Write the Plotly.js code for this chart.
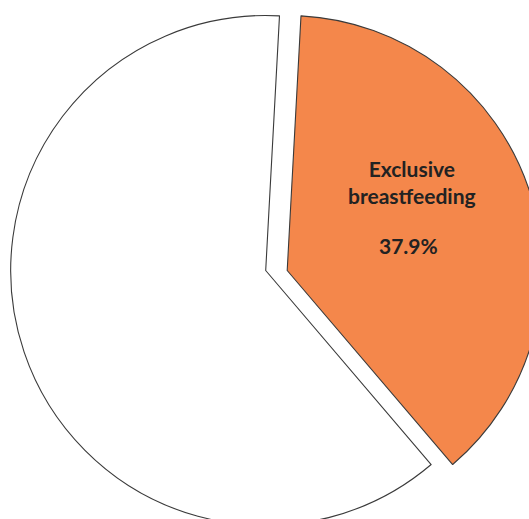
<!DOCTYPE html>
<html>
<head>
<meta charset="utf-8">
<script src="https://cdn.plot.ly/plotly-3.0.1.min.js"></script>
<style>
  html, body { margin: 0; padding: 0; overflow: hidden; background: #fff; }
  #chart { width: 560px; height: 560px; }
</style>
</head>
<body>
<div id="chart"></div>
<script>
// Data
const labels = ['Exclusive breastfeeding', 'Other'];
const values = [37.9, 62.1];
const sliceColors = ['#F4874B', '#FFFFFF'];

// Layout geometry (pixels in a 560x560 canvas)
const W = 560, H = 560;
const R = 255;
const cy = 270.5;
const cxWhite = 265.7;
const cxOrange = 287.2;

function dom(cx) {
  return {
    x: [(cx - R) / W, (cx + R) / W],
    y: [1 - (cy + R) / H, 1 - (cy - R) / H]
  };
}

const lineColor = '#3a3a3a';

// Trace drawing only the white slice
const traceWhite = {
  type: 'pie',
  labels: labels,
  values: values,
  sort: false,
  direction: 'clockwise',
  rotation: 3.1,
  textinfo: 'none',
  hoverinfo: 'skip',
  showlegend: false,
  domain: dom(cxWhite),
  marker: {
    colors: ['rgba(0,0,0,0)', sliceColors[1]],
    line: { color: [ 'rgba(0,0,0,0)', lineColor], width: [0, 1.1] }
  }
};

// Trace drawing only the (exploded) orange slice
const traceOrange = {
  type: 'pie',
  labels: labels,
  values: values,
  sort: false,
  direction: 'clockwise',
  rotation: 3.1,
  textinfo: 'none',
  hoverinfo: 'skip',
  showlegend: false,
  domain: dom(cxOrange),
  marker: {
    colors: [sliceColors[0], 'rgba(0,0,0,0)'],
    line: { color: [lineColor, 'rgba(0,0,0,0)'], width: [1.1, 0] }
  }
};

const textFont = { family: 'Lato, "Open Sans", sans-serif', size: 21, color: '#222222', weight: 'bold' };

const layout = {
  width: W,
  height: H,
  margin: { l: 0, r: 0, t: 0, b: 0 },
  paper_bgcolor: '#ffffff',
  plot_bgcolor: '#ffffff',
  showlegend: false,
  annotations: [
    {
      text: labels[0].replace(' ', '<br>'),
      xref: 'paper', yref: 'paper',
      x: 412 / W, y: 1 - 182 / H,
      xanchor: 'center', yanchor: 'middle',
      showarrow: false,
      font: textFont
    },
    {
      text: values[0].toFixed(1) + '%',
      xref: 'paper', yref: 'paper',
      x: 408 / W, y: 1 - 245.5 / H,
      xanchor: 'center', yanchor: 'middle',
      showarrow: false,
      font: textFont
    }
  ]
};

Plotly.newPlot('chart', [traceWhite, traceOrange], layout, { displayModeBar: false, staticPlot: true });
</script>
</body>
</html>
